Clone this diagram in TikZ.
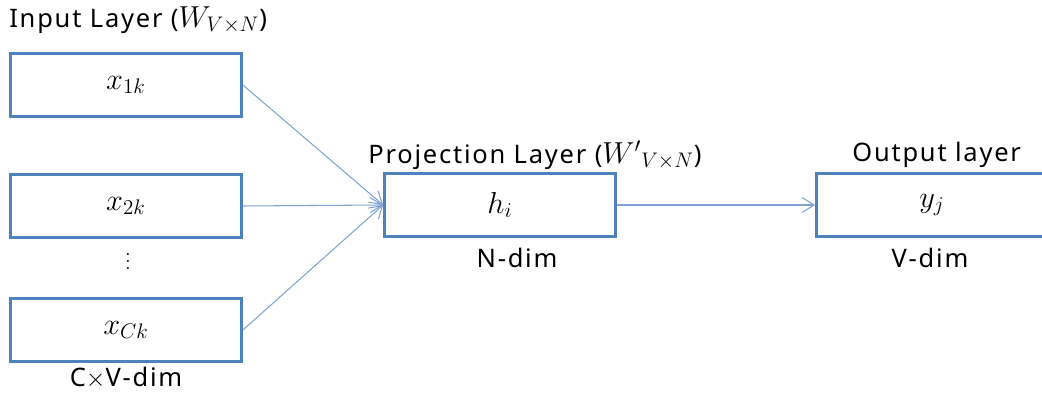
\documentclass[tikz,border=0pt]{standalone}
\usepackage{amsmath,amssymb}
\usepackage{fontspec}
\setsansfont[LetterSpace=7]{Noto Sans}
\usepackage{tikz}
\usetikzlibrary{arrows.meta,positioning,calc}
\definecolor{boxblue}{HTML}{4F81BD}
\definecolor{arrblue}{HTML}{7FA3D3}
\newcommand\ttlmath[1]{{\fontsize{17}{20}\selectfont$#1$}}
\tikzset{
  >={Straight Barb[length=2.4mm,width=3mm]},
  % lager
  lay/.style={rectangle,draw=boxblue,fill=white,line width=1.6pt,
              minimum width=4.62cm,minimum height=1.26cm,inner sep=0pt,
              font=\fontsize{17}{20}\selectfont},
  ttl/.style={font=\sffamily\fontsize{14.5}{17}\selectfont,inner sep=0pt},
  conn/.style={->,draw=arrblue,line width=0.6pt},
}
\begin{document}
\begin{tikzpicture}[x=0.02cm,y=-0.02cm]
  \useasboundingbox (0,0) rectangle (1042,394);
  \node[lay] (x1) at (126,85) {$x_{1k}$};
  \node[lay] (x2) at (126,206) {$x_{2k}$};
  \node[lay] (xc) at (126,330) {$x_{Ck}$};
  \node[font=\large] (dots) at (128,256) {$\vdots$};
  \node[lay] (h) at (500,205) {$h_i$};
  \node[lay] (y) at (932,205) {$y_j$};
  % rubriker
  \node[ttl,anchor=west] (tin) at (9,20) {Input Layer (\ttlmath{W_{V\times N}})};
  \node[ttl,anchor=west] (tpr) at (368,155) {Projection Layer (\ttlmath{{W'}_{V\times N}})};
  \node[ttl,anchor=west] (tout) at (852,155) {Output layer};
  \node[ttl] (nd) at (517,258) {N-dim};
  \node[ttl] (vd) at (930,258) {V-dim};
  \node[ttl] (cvd) at (126,378) {C$\times$V-dim};
  % pilar
  \draw[conn] (x1.east) -- (h.west);
  \draw[conn] (x2.east) -- (h.west);
  \draw[conn] (xc.east) -- (h.west);
  \draw[conn] (h.east) -- (y.west);
\end{tikzpicture}
\end{document}
